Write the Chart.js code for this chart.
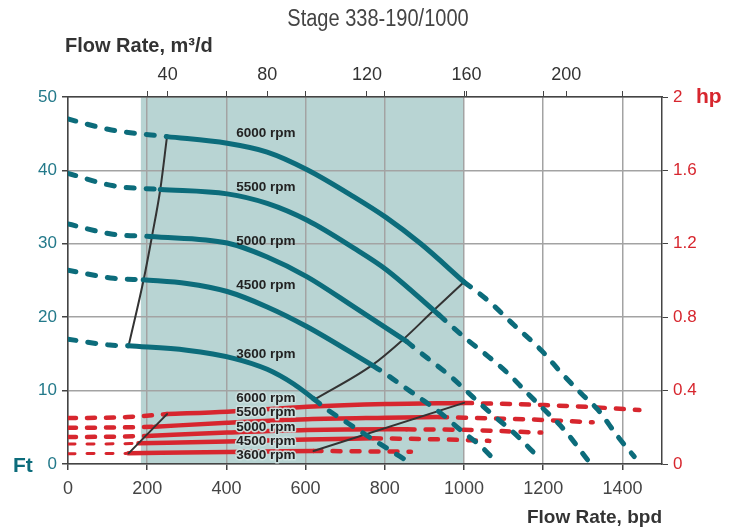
<!DOCTYPE html>
<html><head><meta charset="utf-8">
<script src="https://cdn.jsdelivr.net/npm/chart.js@4.4.0/dist/chart.umd.min.js"></script>
<style>html,body{margin:0;padding:0;background:#fff}#wrap{width:737px;height:529px;position:relative}</style>
</head><body><div id="wrap"><canvas id="c"></canvas></div>
<script>
// ---- data (flow in bpd) ----
const speeds = ['6000 rpm','5500 rpm','5000 rpm','4500 rpm','3600 rpm'];
const bpdTicks = [0,200,400,600,800,1000,1200,1400];
const m3dTicks = [40,80,120,160,200];
const ftTicks = [0,10,20,30,40,50];
const hpTicks = [0,0.4,0.8,1.2,1.6,2];
const bpdPerM3d = 6.2898;
const shadeRange = [184,1000];

// head curves, ft
const head6000Low  = [[0,47.0],[110,45.5],[250,44.6]];
const head6000     = [[250,44.6],[402,43.7],[503,42.5],[604,40.1],[722,36.4],[803,33.6],[891,30.0],[1000,24.8]];
const head6000High = [[1000,24.8],[1060,22.3],[1127,18.9],[1195,15.5],[1246,12.4],[1296,9.6],[1338,7.4],[1389,3.7],[1430,1.0]];
const head5500Low  = [[0,39.6],[115,37.9],[233,37.4]];
const head5500     = [[233,37.4],[402,36.8],[503,35.5],[604,33.2],[722,29.4],[803,26.5],[937,20.3]];
const head5500High = [[937,20.3],[1009,16.9],[1051,15.1],[1110,12.4],[1161,9.6],[1195,7.8],[1254,4.6],[1313,0.5]];
const head5000Low  = [[0,32.7],[113,31.3],[208,31.0]];
const head5000     = [[208,31.0],[402,30.1],[503,28.2],[604,25.5],[722,21.4],[855,16.7]];
const head5000High = [[855,16.7],[887,15.3],[925,13.7],[967,11.9],[1009,9.8],[1068,6.9],[1127,4.2],[1188,0.9]];
const head4500Low  = [[0,26.4],[115,25.3],[190,25.1]];
const head4500     = [[190,25.1],[300,24.6],[402,23.5],[503,21.4],[604,18.7],[770,13.4]];
const head4500High = [[770,13.4],[807,12.1],[841,10.8],[883,9.2],[925,7.6],[942,6.9],[992,4.6],[1043,2.4],[1081,0.3]];
const head3600Low  = [[0,17.0],[106,16.2],[153,16.1]];
const head3600     = [[153,16.1],[300,15.5],[418,14.4],[503,12.9],[570,10.9],[620,8.9]];
const head3600High = [[620,8.9],[655,7.4],[700,5.8],[780,3.0],[866,0.1]];
const headMinLine  = [[153,16.1],[191,25.1],[212,31.0],[233,37.4],[250,44.6]];
const headMaxLine  = [[620,8.7],[769,13.5],[845,16.9],[921,20.8],[1000,24.8]];

// power curves, hp
const hp6000Low  = [[0,0.250],[150,0.256],[250,0.272]];
const hp6000     = [[250,0.272],[402,0.285],[604,0.312],[803,0.327],[1000,0.333]];
const hp6000High = [[1000,0.333],[1203,0.321],[1330,0.309],[1443,0.294]];
const hp5500Low  = [[0,0.197],[120,0.199],[219,0.203]];
const hp5500     = [[219,0.203],[402,0.225],[604,0.244],[803,0.252],[937,0.256]];
const hp5500High = [[937,0.256],[1100,0.247],[1200,0.240],[1325,0.227]];
const hp5000Low  = [[0,0.147],[120,0.149],[198,0.153]];
const hp5000     = [[198,0.153],[402,0.171],[604,0.185],[803,0.189],[855,0.189]];
const hp5000High = [[855,0.189],[1000,0.186],[1195,0.171]];
const hp4500Low  = [[0,0.109],[120,0.110],[178,0.113]];
const hp4500     = [[178,0.113],[402,0.122],[604,0.134],[770,0.140]];
const hp4500High = [[770,0.140],[942,0.134],[1064,0.126]];
const hp3600Low  = [[0,0.056],[153,0.058]];
const hp3600     = [[153,0.058],[402,0.066],[620,0.071]];
const hp3600High = [[620,0.071],[866,0.067]];
const hpMinLine  = [[153,0.058],[250,0.272]];
const hpMaxLine  = [[620,0.071],[1000,0.333]];

// label anchors
const labelFlow = 425;
const headLabelFt = [45.1,37.7,30.4,24.4,15.0];
const hpLabelHp = [0.360,0.283,0.202,0.125,0.049];

// ---- styles ----
const TEAL = '#0c6c7b', RED = '#d7262e', BLACK = '#333333';
const SANS = "'Liberation Sans',Arial,sans-serif";
const pts = a => a.map(([x,y]) => ({x,y}));

const headSets = [
  [head6000Low,head6000,head6000High],[head5500Low,head5500,head5500High],
  [head5000Low,head5000,head5000High],[head4500Low,head4500,head4500High],
  [head3600Low,head3600,head3600High]];
const hpSets = [
  [hp6000Low,hp6000,hp6000High],[hp5500Low,hp5500,hp5500High],
  [hp5000Low,hp5000,hp5000High],[hp4500Low,hp4500,hp4500High],
  [hp3600Low,hp3600,hp3600High]];

const datasets = [];
function line(data, axis, color, width, dash, order){
  datasets.push({data: pts(data), yAxisID: axis, xAxisID:'x', showLine:true, pointRadius:0,
    borderColor: color, backgroundColor: color, borderWidth: width, borderDash: dash || [],
    borderCapStyle:'round', borderJoinStyle:'round', cubicInterpolationMode:'monotone', fill:false, order});
}
hpSets.forEach((s,i) => {
  const thin = i >= 3;
  line(s[0],'y2',RED, thin?3:4.5, thin?[7,12]:[8,11], 3);
  line(s[1],'y2',RED, 4.5, null, 3);
  line(s[2],'y2',RED, 4.5, [8,11], 3);
});
line(headMinLine,'y',BLACK,2,null,2);
line(headMaxLine,'y',BLACK,2,null,2);
line(hpMinLine,'y2',BLACK,2,null,2);
line(hpMaxLine,'y2',BLACK,2,null,2);
headSets.forEach(s => {
  line(s[0],'y',TEAL,5,[8,12],1);
  line(s[1],'y',TEAL,5,null,1);
  line(s[2],'y',TEAL,5,[8,12],1);
});

const shadePlugin = {
  id:'shade',
  beforeDraw(chart){
    const {ctx, chartArea:a, scales:{x}} = chart;
    const x0 = x.getPixelForValue(shadeRange[0]), x1 = x.getPixelForValue(shadeRange[1]);
    ctx.save(); ctx.fillStyle = '#b8d4d3'; ctx.fillRect(x0, a.top, x1-x0, a.bottom-a.top); ctx.restore();
  }
};
const labelPlugin = {
  id:'rpmLabels',
  afterDatasetsDraw(chart){
    const {ctx, scales:{x,y,y2}} = chart;
    ctx.save();
    ctx.font = "bold 13.5px " + SANS; ctx.textAlign='left'; ctx.textBaseline='middle';
    const px = x.getPixelForValue(labelFlow);
    speeds.forEach((s,i) => {
      ctx.fillStyle = '#222';
      ctx.fillText(s, px, y.getPixelForValue(headLabelFt[i]));
      const py = y2.getPixelForValue(hpLabelHp[i]);
      ctx.lineWidth = 3; ctx.strokeStyle = 'rgba(205,225,224,0.95)'; ctx.lineJoin='round';
      ctx.strokeText(s, px, py);
      ctx.fillText(s, px, py);
    });
    ctx.restore();
  }
};
function condensed(ctx, text, x, y, sx){
  ctx.save(); ctx.translate(x, y); ctx.scale(sx, 1); ctx.fillText(text, 0, 0); ctx.restore();
}
const textPlugin = {
  id:'texts',
  afterDraw(chart){
    const {ctx, chartArea:a} = chart;
    ctx.save();
    ctx.textBaseline='middle';
    ctx.fillStyle = '#444'; ctx.font = "23px " + SANS; ctx.textAlign='center';
    condensed(ctx, 'Stage 338-190/1000', 378, 20, 0.87);
    ctx.fillStyle = '#333'; ctx.font = "bold 20px " + SANS; ctx.textAlign='left';
    condensed(ctx, 'Flow Rate, m³/d', 65, 46, 1.0);
    ctx.textAlign='right'; ctx.font = "bold 19px " + SANS;
    ctx.fillText('Flow Rate, bpd', a.right, 518);
    ctx.textAlign='left'; ctx.fillStyle = TEAL; ctx.font = "bold 21px " + SANS;
    ctx.fillText('Ft', 13, a.bottom + 2);
    ctx.fillStyle = RED;
    ctx.fillText('hp', a.right + 34, a.top);
    ctx.restore();
  }
};

new Chart(document.getElementById('c'), {
  type:'scatter',
  data:{datasets},
  options:{
    responsive:true, maintainAspectRatio:false, animation:false,
    layout:{padding:0},
    plugins:{legend:{display:false}, tooltip:{enabled:false}, title:{display:false}},
    scales:{
      x:{type:'linear', position:'bottom', min:0, max:1500,
        afterBuildTicks: s => { s.ticks = bpdTicks.map(v => ({value:v})); },
        afterFit: s => { s.height = 65; },
        ticks:{color:'#444', font:{family:SANS, size:18}, padding:8, autoSkip:false, maxRotation:0,
          callback: v => String(v)},
        grid:{color:'#a3a3a3', lineWidth:1.5, tickColor:'#444', tickLength:6},
        border:{color:'#444', width:1.5}},
      x2:{type:'linear', position:'top', min:0, max:1500,
        afterBuildTicks: s => {
          const t = bpdTicks.filter(v => v > 0).map(v => ({value:v, m3d:null}))
            .concat(m3dTicks.map(v => ({value:v*bpdPerM3d, m3d:v})));
          t.sort((a,b) => a.value - b.value);
          s.ticks = t;
        },
        afterFit: s => { s.height = 97; },
        ticks:{color:'#333', font:{family:SANS, size:18}, padding:5, autoSkip:false, maxRotation:0,
          callback: function(v, i, t){ return t[i].m3d == null ? '' : String(t[i].m3d); }},
        grid:{drawOnChartArea:false, tickColor:'#444', tickLength:6},
        border:{color:'#444', width:1.5}},
      y:{type:'linear', position:'left', min:0, max:50,
        afterBuildTicks: s => { s.ticks = ftTicks.map(v => ({value:v})); },
        afterFit: s => { s.width = 68; },
        ticks:{color:'#23798a', font:{family:SANS, size:17}, padding:5},
        grid:{color:'#a3a3a3', lineWidth:1.5, tickColor:'#444', tickLength:6},
        border:{color:'#444', width:1.5}},
      y2:{type:'linear', position:'right', min:0, max:2,
        afterBuildTicks: s => { s.ticks = hpTicks.map(v => ({value:v})); },
        afterFit: s => { s.width = 75; },
        ticks:{color:RED, font:{family:SANS, size:17}, padding:5,
          callback: v => String(v)},
        grid:{drawOnChartArea:false, tickColor:'#444', tickLength:6},
        border:{color:'#444', width:1.5}}
    }
  },
  plugins:[shadePlugin, labelPlugin, textPlugin]
});
</script></body></html>
